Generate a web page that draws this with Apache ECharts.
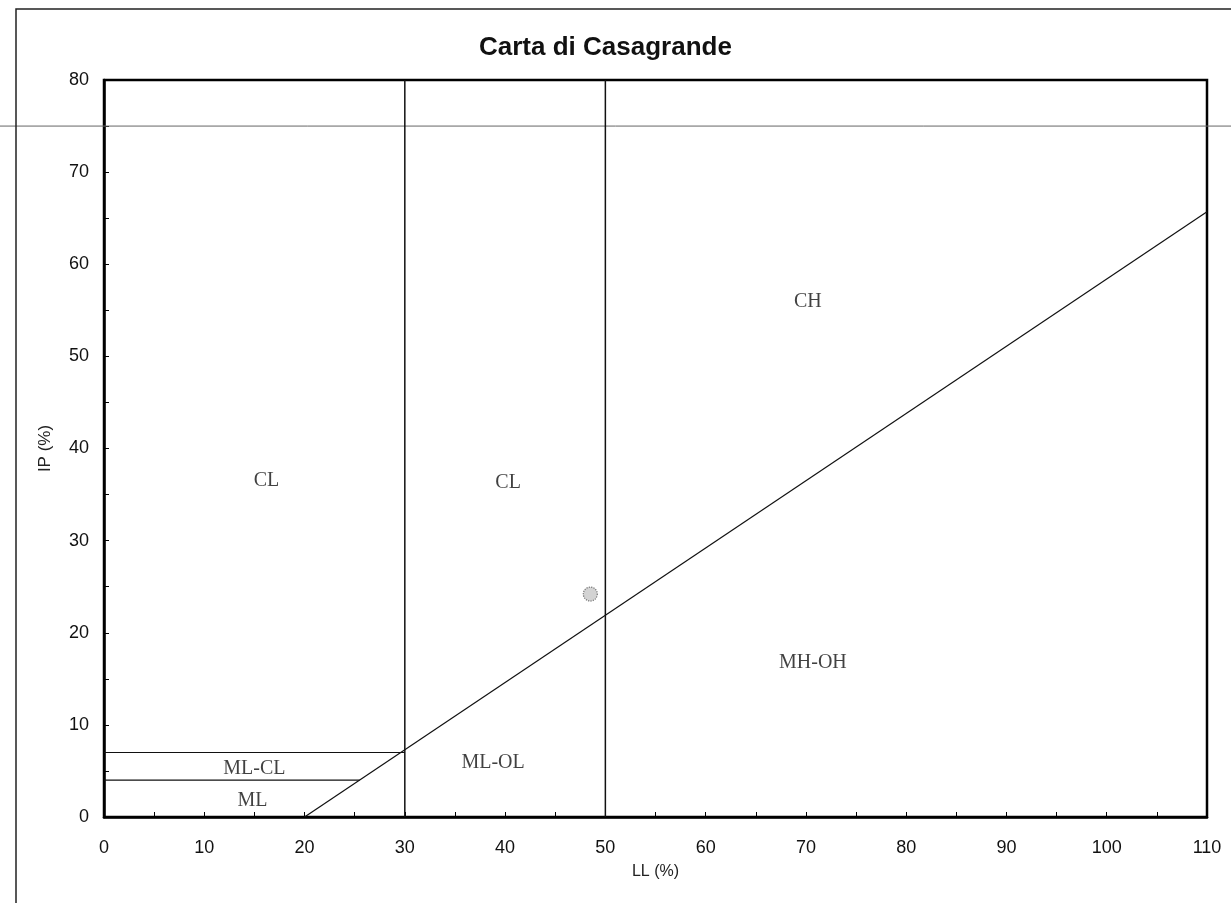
<!DOCTYPE html>
<html><head><meta charset="utf-8">
<style>html,body{margin:0;padding:0;background:#fff}#c{width:1231px;height:903px}</style>
<script src="https://cdn.jsdelivr.net/npm/echarts@6/dist/echarts.min.js"></script>
</head><body><div id="c"></div>
<script>
// ---- data ----
const aLineLL = [20, 110];
const aLineIP = [0, 65.7];
const vert30LL = [30, 30];
const vert30IP = [0, 80];
const vert50LL = [50, 50];
const vert50IP = [0, 80];
const ip7LL = [0, 30];
const ip7IP = [7, 7];
const ip4LL = [0, 25.5];
const ip4IP = [4, 4];
const zoneNames = ['CL', 'CL', 'CH', 'MH-OH', 'ML-OL', 'ML-CL', 'ML'];
const zoneLL = [16.2, 40.3, 70.2, 70.7, 38.8, 15.0, 14.8];
const zoneIP = [36.5, 36.3, 55.9, 16.7, 5.9, 5.2, 1.8];
const sampleLL = [48.5];
const sampleIP = [24.2];
const scanLineIP = 75;

const zip = (a, b) => a.map((v, i) => [v, b[i]]);

const chart = echarts.init(document.getElementById('c'));
const boundary = (name, xs, ys, w) => ({
  name, type: 'line', data: zip(xs, ys), symbol: 'none', silent: true,
  lineStyle: { color: '#111', width: w }, z: 3
});

chart.setOption({
  animation: false,
  backgroundColor: '#fff',
  title: {
    text: 'Carta di Casagrande', left: 474, top: 30,
    textStyle: { fontFamily: 'Liberation Sans', fontWeight: 'bold', fontSize: 26, color: '#111' }
  },
  grid: { left: 104, right: 24, top: 80, bottom: 86, show: true, borderColor: '#000', borderWidth: 2.5, backgroundColor: 'transparent' },
  xAxis: {
    type: 'value', min: 0, max: 110, interval: 10,
    name: 'LL (%)', nameLocation: 'middle', nameGap: 47,
    nameTextStyle: { fontFamily: 'Liberation Sans', fontSize: 16, color: '#222' },
    axisLine: { lineStyle: { color: '#000', width: 2.5 } },
    axisTick: { inside: true, length: 5, lineStyle: { color: '#000' } },
    minorTick: { show: true, splitNumber: 2, length: 5, lineStyle: { color: '#000' } },
    splitLine: { show: false },
    axisLabel: { fontFamily: 'Liberation Sans', fontSize: 18, color: '#111', margin: 22 }
  },
  yAxis: {
    type: 'value', min: 0, max: 80, interval: 10,
    name: 'IP (%)', nameLocation: 'middle', nameGap: 50,
    nameTextStyle: { fontFamily: 'Liberation Sans', fontSize: 17, color: '#222' },
    axisLine: { lineStyle: { color: '#000', width: 2.5 } },
    axisTick: { inside: true, length: 5, lineStyle: { color: '#000' } },
    minorTick: { show: true, splitNumber: 2, length: 5, lineStyle: { color: '#000' } },
    splitLine: { show: false },
    axisLabel: { fontFamily: 'Liberation Sans', fontSize: 18, color: '#111', margin: 15 }
  },
  series: [
    boundary('A-line', aLineLL, aLineIP, 1.2),
    boundary('LL30', vert30LL, vert30IP, 1.5),
    boundary('LL50', vert50LL, vert50IP, 1.5),
    boundary('IP7', ip7LL, ip7IP, 1.2),
    boundary('IP4', ip4LL, ip4IP, 1.2),
    {
      name: 'zones', type: 'scatter', symbolSize: 0, silent: true, z: 4,
      data: zoneLL.map((x, i) => ({ value: [x, zoneIP[i]], name: zoneNames[i] })),
      label: { show: true, position: 'inside', formatter: p => p.name,
        fontFamily: 'Liberation Serif', fontSize: 20, color: '#111' }
    },
    {
      name: 'campione', type: 'scatter', symbol: 'circle', symbolSize: 14, z: 5,
      data: zip(sampleLL, sampleIP),
      itemStyle: { color: '#c8c8c8', borderColor: '#555', borderWidth: 1.2, borderType: 'dotted' }
    }
  ]
});

const yScan = chart.convertToPixel({ yAxisIndex: 0 }, scanLineIP);
chart.setOption({
  graphic: [
    { type: 'line', shape: { x1: 0, y1: yScan, x2: 1231, y2: yScan }, style: { stroke: '#666', lineWidth: 1 }, silent: true, z: 1 },
    { type: 'polyline', shape: { points: [[16, 903], [16, 9], [1231, 9]] }, style: { stroke: '#222', lineWidth: 1.5, fill: null }, silent: true, z: 1 }
  ]
});
</script>
</body></html>
